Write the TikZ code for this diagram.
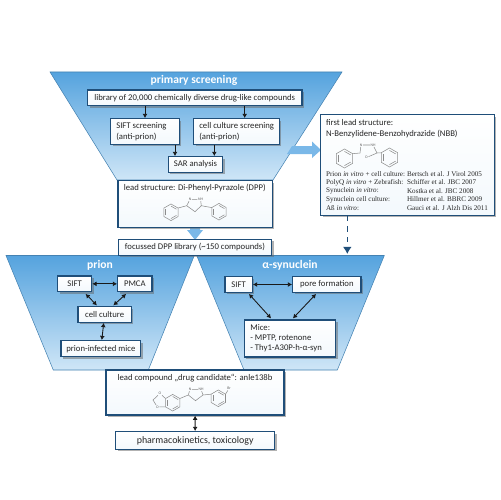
\documentclass[tikz,border=0pt]{standalone}
\usepackage{fontspec}
\setmainfont{Carlito}
\newfontfamily\citefont{Liberation Serif}
\usetikzlibrary{shadows,arrows.meta,calc}
\definecolor{edgeblue}{HTML}{1F4E79}
\definecolor{trapt}{HTML}{55A3DE}
\definecolor{trapb}{HTML}{CFE6F7}
\definecolor{txt}{HTML}{262626}
\definecolor{molc}{HTML}{8C8C8C}
\definecolor{bigarr}{HTML}{7AB8E8}
\tikzset{
  x=0.02cm,y=-0.02cm,
  trap/.style={top color=trapt,bottom color=trapb,draw=trapt!80!black,line width=0.3pt},
  bx/.style={draw=edgeblue,line width=0.7pt,top color=white,bottom color=white!93!trapt,text=txt,font=\fontsize{4.95}{6}\selectfont,inner sep=0pt,align=center,
    drop shadow={shadow xshift=0.04cm,shadow yshift=-0.04cm,fill=black!60,opacity=0.5}},
  lefttext/.style={text width={#1*0.02cm},inner xsep=0.112cm,align=flush left},
  lab/.style={text=txt,font=\fontsize{4.95}{6}\selectfont,inner sep=0pt},
  arr/.style={draw=black!90,line width=0.55pt,-{Latex[length=2.4pt,width=2.8pt]}},
  darr/.style={draw=black!90,line width=0.5pt,{Latex[length=2.4pt,width=2.8pt]}-{Latex[length=2.4pt,width=2.8pt]}},
  title/.style={text=white,font=\fontsize{6.6}{8}\selectfont\bfseries,inner sep=0pt},
  mol/.style={draw=molc,line width=0.3pt},
  atom/.style={text=molc!70!black,font=\fontsize{2.2}{2.5}\selectfont,inner sep=0.2pt},
  cite/.style={text=txt,font=\citefont\fontsize{4.05}{5}\selectfont,inner sep=0pt,anchor=west},
  big/.style={fill=bigarr,draw=none}
}
\newcommand{\bxnode}[6][]{\node[bx,#1,minimum width={(#4-#2)*0.02cm},minimum height={(#5-#3)*0.02cm}] (#6) at ({(#2+#4)/2},{(#3+#5)/2})}
\newcommand{\ring}[3]{\draw[mol] ({#1+#3*cos(30)},{#2+#3*sin(30)}) -- ({#1},{#2+#3}) -- ({#1-#3*cos(30)},{#2+#3*sin(30)}) -- ({#1-#3*cos(30)},{#2-#3*sin(30)}) -- ({#1},{#2-#3}) -- ({#1+#3*cos(30)},{#2-#3*sin(30)}) -- cycle;
 \draw[mol] ({#1+0.75*#3*cos(30)},{#2+0.75*#3*sin(30)}) -- ({#1},{#2+0.75*#3});
 \draw[mol] ({#1-0.75*#3*cos(30)},{#2+0.75*#3*sin(30)}) -- ({#1-0.75*#3*cos(30)},{#2-0.75*#3*sin(30)});
 \draw[mol] ({#1},{#2-0.75*#3}) -- ({#1+0.75*#3*cos(30)},{#2-0.75*#3*sin(30)});}
\begin{document}
\begin{tikzpicture}
\useasboundingbox (0,0) rectangle (500,500);
\fill[white] (0,0) rectangle (500,500);
% funnels
\shade[trap] (50,72) -- (342,72) -- (273,180) -- (117,180) -- cycle;
\shade[trap] (6,255.5) -- (194.3,255.5) -- (148.3,370) -- (53.3,370) -- cycle;
\shade[trap] (196.7,255.5) -- (384.3,255.5) -- (337.3,370) -- (244,370) -- cycle;
% big arrows
\fill[big] (292,146) -- (312,146) -- (312,141.5) -- (321,150) -- (312,158) -- (312,154) -- (287,154) -- cycle;
\fill[big] (190,226) -- (200,226) -- (200,230) -- (203,230) -- (195,240) -- (187,230) -- (190,230) -- cycle;
\node[title] (ttop) at (194,80.5) {primary screening};
\node[title] (tpri) at (100,265) {prion};
\node[title] (tsyn) at (290,265) {α-synuclein};
% boxes
\bxnode{87.5}{90}{302}{105.7}{lib}{library of 20,000 chemically diverse drug-like compounds};
\bxnode[lefttext=57.4]{110.7}{118.7}{179.3}{144.3}{sifts}{SIFT screening\\(anti-prion)};
\bxnode[lefttext=74.4]{193.7}{118.7}{279.3}{144.3}{cells}{\mbox{cell culture screening}\\(anti-prion)};
\bxnode{168.3}{156.7}{222.7}{172.3}{sar}{SAR analysis};
\bxnode{118}{180.7}{272.3}{227.3}{dpp}{};
\node[lab,anchor=west] (dpplab) at (123.5,188.5) {lead structure: Di-Phenyl-Pyrazole (DPP)};
\bxnode{118.3}{239.3}{271.7}{255.3}{foc}{focussed DPP library (\textasciitilde150 compounds)};
\bxnode{320.7}{114.7}{494.3}{215.3}{nbb}{};
\node[lab,anchor=north west,align=left] (nbblab) at (325.7,119.5) {first lead structure:\\N-Benzylidene-Benzohydrazide (NBB)};
\node[cite] (c1) at (325.7,174) {Prion \textit{in vitro} + cell culture:};
\node[cite] (c2) at (325.7,182.5) {PolyQ \textit{in vitro} + Zebrafish:};
\node[cite] (c3) at (325.7,191) {Synuclein \textit{in vitro}:};
\node[cite] (c4) at (325.7,199.5) {Synuclein cell culture:};
\node[cite] (c5) at (325.7,208) {Aß \textit{in vitro}:};
\node[cite] (d1) at (406.7,174) {Bertsch et al. J Virol 2005};
\node[cite] (d2) at (406.7,182.5) {Schiffer et al. JBC 2007};
\node[cite] (d3) at (406.7,191) {Kostka et al. JBC 2008};
\node[cite] (d4) at (406.7,199.5) {Hillmer et al. BBRC 2009};
\node[cite] (d5) at (406.7,208) {Gauci et al. J Alzh Dis 2011};
\bxnode{57.7}{276}{91.7}{291.7}{p1}{SIFT};
\bxnode{117.7}{276}{152}{291.7}{p2}{PMCA};
\bxnode{78}{306.7}{131.3}{322.3}{p3}{cell culture};
\bxnode{61}{340.7}{140.7}{356.7}{p4}{prion-infected mice};
\bxnode{225}{276.7}{252.3}{292.3}{s1}{SIFT};
\bxnode{292.7}{276.7}{361}{292.3}{s2}{pore formation};
\bxnode{244.3}{320}{335.7}{357}{s3}{};
\node[lab,font=\fontsize{4.95}{5.7}\selectfont,anchor=west,align=left] (s3lab) at (250,338.5) {Mice:\\- MPTP, rotenone\\- Thy1-A30P-h-α-syn};
\bxnode{106}{370}{284}{415}{anle}{};
\node[lab] (anlelab) at (195,378.5) {lead compound „drug candidate“: anle138b};
\bxnode{115.7}{431.7}{274.7}{449.3}{pk}{\fontsize{5.65}{7}\selectfont pharmacokinetics, toxicology};
% connector positions
\coordinate (xa) at (145,0); \coordinate (xb) at (244.7,0);
\coordinate (xc) at (175,0); \coordinate (xd) at (214.3,0);
\coordinate (xe) at (347.3,0); \coordinate (xf) at (347.3,254);
\draw[arr] (lib.south -| xa) -- (sifts.north -| xa);
\draw[arr] (lib.south -| xb) -- (cells.north -| xb);
\draw[arr] (sifts.south -| xc) -- (sar.north -| xc);
\draw[arr] (cells.south -| xd) -- (sar.north -| xd);
\draw[draw=edgeblue,line width=0.9pt,dashed,-{Latex[length=4pt,width=5pt]}] (nbb.south -| xe) -- (xf);
\draw[darr] (p1) -- (p2);
\draw[darr] ($(p1.south east)+(-6.7,1.6)$) -- ($(p3.north)+(-7.7,-0.7)$);
\draw[darr] ($(p2.south west)+(9,1.6)$) -- ($(p3.north)+(8.7,-0.7)$);
\draw[darr] (p3) -- (p4);
\draw[darr] (s1) -- (s2);
\draw[darr] ($(s1.south east)+(-4,1)$) -- ($(s3.north west)+(27.4,-1)$);
\draw[darr] ($(s2.south west)+(24,1)$) -- ($(s3.north east)+(-43.4,-1)$);
\draw[darr] (anle) -- (pk);
% DPP molecule
\ring{171}{212.3}{8.3} \ring{219}{211.7}{8.3}
\node[atom] (n1) at (190,199.3) {N}; \node[atom] (n2) at (200.5,199.3) {NH};
\coordinate (a1) at (186.7,205.7); \coordinate (a2) at (195,211.7); \coordinate (a3) at (201.3,205.7);
\draw[mol] (n1) -- (n2) (n2) -- (a3) -- (a2) -- (a1) -- (n1) (a1) -- (178.2,208) (a3) -- (211.8,207.6);
% NBB molecule
\ring{344.5}{158.5}{9.5} \ring{389.5}{157.5}{9.5}
\node[atom] (n3) at (361,145) {N}; \node[atom] (n4) at (373,145) {NH}; \node[atom] (o1) at (366.5,157.5) {O};
\coordinate (b1) at (360,153); \coordinate (b2) at (377,153);
\draw[mol] (352.7,153.7) -- (b1) -- (n3) (n3) -- (n4) (n4) -- (b2) -- (381.3,152.8) (b2) -- (o1);
% anle138b molecule
\ring{172.7}{402.7}{8.3} \ring{218.3}{398.3}{8.3}
\node[atom] (n5) at (190,389.3) {N}; \node[atom] (n6) at (201,389.3) {NH}; \node[atom] (br) at (229,388.5) {Br};
\node[atom] (o2) at (160,393.5) {O}; \node[atom] (o3) at (157.3,407) {O};
\coordinate (e1) at (188.3,395); \coordinate (e2) at (195.5,400.7); \coordinate (e3) at (203,395); \coordinate (e4) at (153,400);
\draw[mol] (n5) -- (n6) (n6) -- (e3) -- (e2) -- (e1) -- (n5) (e1) -- (179.9,398.5) (e3) -- (211,394.2) (225.5,394.2) -- (br)
 (o2) -- (165.5,398.5) (o3) -- (165.5,406.8) (o2) -- (e4) -- (o3);
\end{tikzpicture}
\end{document}
